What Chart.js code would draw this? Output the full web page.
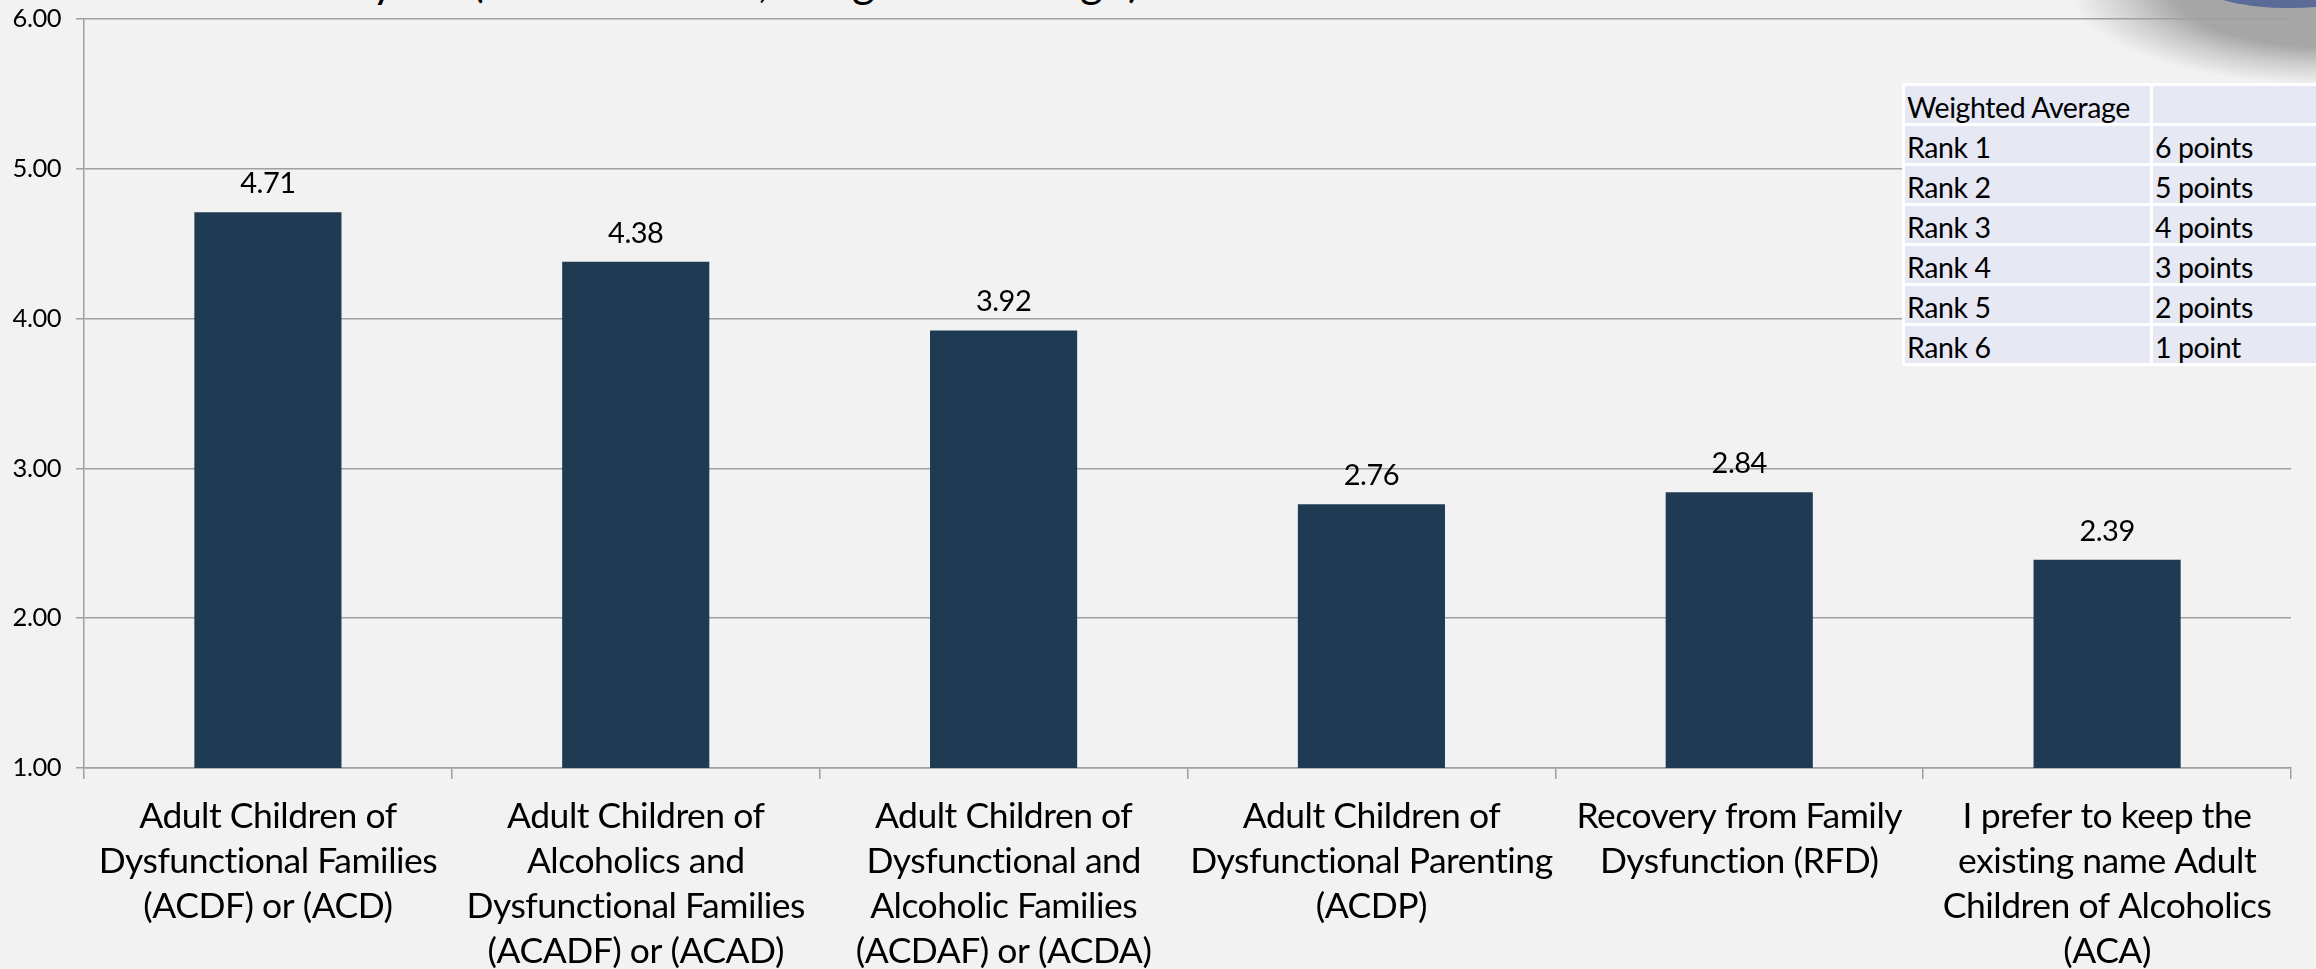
<!DOCTYPE html>
<html><head><meta charset="utf-8">
<script src="https://cdn.jsdelivr.net/npm/chart.js@4"></script>
<style>
html,body{margin:0;padding:0;width:2316px;height:969px;overflow:hidden;background:#f2f2f2;font-family:Lato,sans-serif;color:#000}
#shadow{position:absolute;left:1950px;top:0;width:366px;height:83px;background:radial-gradient(ellipse 260px 95px at 380px -10px,#a6a6a6 0%,#a6a6a6 60%,rgba(166,166,166,.5) 78%,rgba(242,242,242,0) 100%)}
#logo{position:absolute;left:2205px;top:0;width:111px;height:9px;overflow:hidden}
#logo div{position:absolute;left:0;top:-34px;width:170px;height:42px;border-radius:50%;background:#5b6b98}
canvas{position:absolute;left:0;top:0}
#frag span{position:absolute;top:-45px;font-size:44px;line-height:50px;white-space:pre}
table{position:absolute;left:1902px;top:83px;width:424px;height:283px;border-collapse:collapse;background:#fff;table-layout:fixed}
td{background:#e6e8f4;border:3px solid #fff;padding:4px 0 0 2px;font-size:28.5px;line-height:30px;height:30px;white-space:nowrap;letter-spacing:-.4px}
td:first-child{width:243px}
</style></head><body>
<div id="shadow"></div><div id="logo"><div></div></div>
<div id="frag"></div>
<canvas id="c" width="2316" height="969"></canvas>
<table id="t"></table>
<script>
const categories=[
 ["Adult Children of","Dysfunctional Families","(ACDF) or (ACD)"],
 ["Adult Children of","Alcoholics and","Dysfunctional Families","(ACADF) or (ACAD)"],
 ["Adult Children of","Dysfunctional and","Alcoholic Families","(ACDAF) or (ACDA)"],
 ["Adult Children of","Dysfunctional Parenting","(ACDP)"],
 ["Recovery from Family","Dysfunction (RFD)"],
 ["I prefer to keep the","existing name Adult","Children of Alcoholics","(ACA)"]
];
const weightedAverage=[4.71,4.38,3.92,2.76,2.84,2.39];
const yTicks=[1,2,3,4,5,6];
const legendRows=[["Weighted Average",""],["Rank 1","6 points"],["Rank 2","5 points"],["Rank 3","4 points"],["Rank 4","3 points"],["Rank 5","2 points"],["Rank 6","1 point"]];
const titleGlyphs=[["y",372],["(",472],[",",758],["g",852],["g",1080],[")",1128]];

document.getElementById('t').innerHTML=legendRows.map(r=>'<tr><td>'+r[0]+'</td><td>'+r[1]+'</td></tr>').join('');
document.getElementById('frag').innerHTML=titleGlyphs.map(g=>'<span style="left:'+g[1]+'px">'+g[0]+'</span>').join('');

const FONT='Lato, sans-serif';
const spacing={id:'spacing',beforeDraw(ch){ch.ctx.letterSpacing='-0.5px';}};
const valueLabels={id:'valueLabels',afterDatasetsDraw(ch){
  const ctx=ch.ctx,meta=ch.getDatasetMeta(0);
  ctx.save();ctx.font='29px '+FONT;ctx.fillStyle='#000';ctx.textAlign='center';ctx.textBaseline='bottom';
  meta.data.forEach((el,i)=>ctx.fillText(weightedAverage[i].toFixed(2),el.x,el.y-14));
  ctx.restore();
}};
new Chart(document.getElementById('c'),{
  type:'bar',
  data:{labels:categories,datasets:[{data:weightedAverage,backgroundColor:'#1f3b54',borderWidth:0,barPercentage:.4,categoryPercentage:1}]},
  plugins:[spacing,valueLabels],
  options:{
    responsive:false,animation:false,devicePixelRatio:1,
    layout:{padding:{top:19,right:25,left:0,bottom:0}},
    plugins:{legend:{display:false},tooltip:{enabled:false},title:{display:false}},
    scales:{
      x:{
        afterFit(s){s.height=201;s.paddingLeft=0;s.paddingRight=0;},
        grid:{drawOnChartArea:false,drawTicks:true,tickLength:11,color:'#a0a0a0',lineWidth:1.5},
        border:{display:true,color:'#a0a0a0',width:1.5},
        ticks:{autoSkip:false,maxRotation:0,minRotation:0,padding:15,color:'#000',font:{family:FONT,size:35.5,lineHeight:1.268}}
      },
      y:{
        min:1,max:6,
        afterFit(s){s.width=84;s.paddingTop=0;s.paddingBottom=0;},
        afterBuildTicks(s){s.ticks=yTicks.map(v=>({value:v}));},
        grid:{color:'#a0a0a0',lineWidth:1.5,tickLength:8},
        border:{display:true,color:'#a0a0a0',width:1.5},
        ticks:{padding:15,color:'#000',font:{family:FONT,size:25.5},callback:v=>v.toFixed(2)}
      }
    }
  }
});
</script></body></html>
